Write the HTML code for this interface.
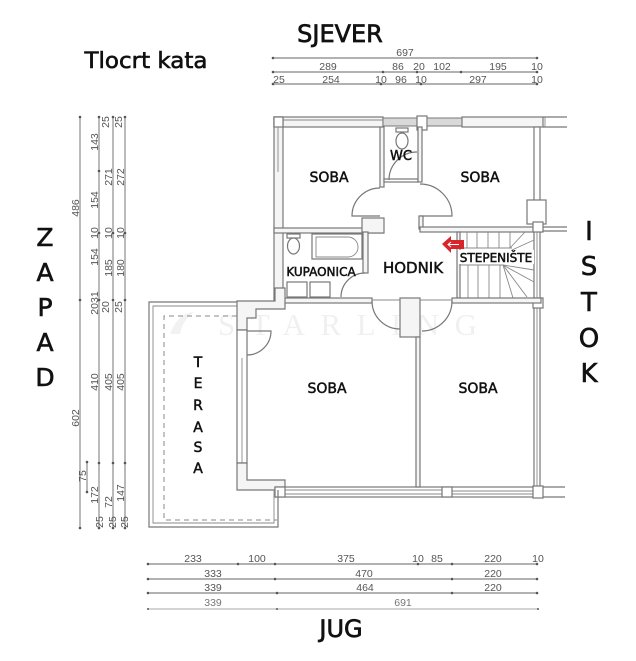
<!DOCTYPE html>
<html><head><meta charset="utf-8">
<style>
html,body{margin:0;padding:0;background:#fff;width:636px;height:661px;overflow:hidden;}
svg{display:block;}
.d{font-family:"Liberation Sans",sans-serif;font-size:10.5px;fill:#555;text-anchor:middle;}
.l{font-family:"DejaVu Sans",sans-serif;fill:#111;stroke:#111;stroke-width:0.5;text-anchor:middle;}
.w{fill:#f5f5f5;stroke:#777;stroke-width:1.2;}
.wh{fill:#fff;stroke:#777;stroke-width:1.2;}
.ln{stroke:#777;stroke-width:1.2;fill:none;}
.th{stroke:#888;stroke-width:0.9;fill:none;}
.dl{stroke:#666;stroke-width:0.9;fill:none;}
.tk{fill:#555;}
</style></head><body>
<svg width="636" height="661" viewBox="0 0 636 661" xmlns="http://www.w3.org/2000/svg">

<!-- Titles -->
<text x="340" y="42" class="l" style="font-size:24px;stroke-width:0.7">SJEVER</text>
<text x="146" y="68" class="l" style="font-size:22px;stroke-width:0.6" textLength="123" lengthAdjust="spacingAndGlyphs">Tlocrt kata</text>
<text x="341" y="637" class="l" style="font-size:24px;stroke-width:0.7">JUG</text>

<g class="l" style="font-size:25px;stroke-width:0.6">
<text x="45" y="246">Z</text><text x="45" y="281">A</text><text x="45" y="316">P</text><text x="45" y="351">A</text><text x="45" y="386">D</text>
</g>
<g class="l" style="font-size:26px;stroke-width:0.6">
<text x="589" y="240">I</text><text x="589" y="275">S</text><text x="589" y="311">T</text><text x="589" y="347">O</text><text x="589" y="382">K</text>
</g>

<!-- Top dimensions -->
<g class="dl">
<line x1="273" y1="58" x2="538" y2="58"/>
<line x1="273" y1="72" x2="538" y2="72"/>
<line x1="273" y1="84" x2="538" y2="84"/>
</g>
<g class="tk">
<circle cx="273" cy="58" r="1.3"/><circle cx="537" cy="58" r="1.3"/>
<circle cx="273" cy="72" r="1.3"/><circle cx="383" cy="72" r="1.3"/><circle cx="417" cy="72" r="1.3"/><circle cx="461" cy="72" r="1.3"/><circle cx="537" cy="72" r="1.3"/>
<circle cx="273" cy="84" r="1.3"/><circle cx="381" cy="84" r="1.3"/><circle cx="421" cy="84" r="1.3"/><circle cx="537" cy="84" r="1.3"/>
</g>
<g class="d">
<text x="405" y="56">697</text>
<text x="328" y="70">289</text><text x="398" y="70">86</text><text x="419" y="70">20</text><text x="442" y="70">102</text><text x="498" y="70">195</text><text x="537" y="70">10</text>
<text x="279" y="83">25</text><text x="331" y="83">254</text><text x="381" y="83">10</text><text x="401" y="83">96</text><text x="421" y="83">10</text><text x="478" y="83">297</text><text x="537" y="83">10</text>
</g>

<!-- Left dimensions -->
<g class="dl">
<line x1="80" y1="117" x2="80" y2="528"/>
<line x1="99" y1="117" x2="99" y2="528"/>
<line x1="113" y1="117" x2="113" y2="528"/>
<line x1="125" y1="117" x2="125" y2="528"/>
<line x1="87" y1="462" x2="87" y2="492"/>
</g>
<g class="tk">
<circle cx="80" cy="117" r="1.3"/><circle cx="80" cy="300" r="1.3"/><circle cx="80" cy="528" r="1.3"/>
<circle cx="87" cy="462" r="1.3"/><circle cx="87" cy="492" r="1.3"/>
<circle cx="99" cy="117" r="1.3"/><circle cx="99" cy="171" r="1.3"/><circle cx="99" cy="233" r="1.3"/><circle cx="99" cy="300" r="1.3"/><circle cx="99" cy="463" r="1.3"/><circle cx="99" cy="528" r="1.3"/>
<circle cx="113" cy="117" r="1.3"/><circle cx="113" cy="233" r="1.3"/><circle cx="113" cy="300" r="1.3"/><circle cx="113" cy="463" r="1.3"/><circle cx="113" cy="528" r="1.3"/>
<circle cx="125" cy="117" r="1.3"/><circle cx="125" cy="233" r="1.3"/><circle cx="125" cy="300" r="1.3"/><circle cx="125" cy="463" r="1.3"/><circle cx="125" cy="528" r="1.3"/>
</g>
<g class="d">
<text transform="rotate(-90 79 208)" x="79" y="208">486</text>
<text transform="rotate(-90 79 418)" x="79" y="418">602</text>
<text transform="rotate(-90 86 476)" x="86" y="476">75</text>
<text transform="rotate(-90 98 495)" x="98" y="495">172</text>
<text transform="rotate(-90 103 522)" x="103" y="522">25</text>

<text transform="rotate(-90 98 142)" x="98" y="142">143</text>
<text transform="rotate(-90 98 200)" x="98" y="200">154</text>
<text transform="rotate(-90 98 233)" x="98" y="233">10</text>
<text transform="rotate(-90 98 257)" x="98" y="257">154</text>
<text transform="rotate(-90 98 303)" x="98" y="303">2031</text>
<text transform="rotate(-90 98 382)" x="98" y="382">410</text>

<text transform="rotate(-90 109 122)" x="109" y="122">25</text>
<text transform="rotate(-90 112 177)" x="112" y="177">271</text>
<text transform="rotate(-90 112 233)" x="112" y="233">10</text>
<text transform="rotate(-90 112 268)" x="112" y="268">185</text>
<text transform="rotate(-90 109 307)" x="109" y="307">20</text>
<text transform="rotate(-90 112 382)" x="112" y="382">405</text>
<text transform="rotate(-90 112 502)" x="112" y="502">72</text>
<text transform="rotate(-90 116 522)" x="116" y="522">25</text>

<text transform="rotate(-90 122 122)" x="122" y="122">25</text>
<text transform="rotate(-90 124 177)" x="124" y="177">272</text>
<text transform="rotate(-90 124 233)" x="124" y="233">10</text>
<text transform="rotate(-90 124 268)" x="124" y="268">180</text>
<text transform="rotate(-90 122 307)" x="122" y="307">25</text>
<text transform="rotate(-90 124 382)" x="124" y="382">405</text>
<text transform="rotate(-90 124 493)" x="124" y="493">147</text>
<text transform="rotate(-90 128 522)" x="128" y="522">25</text>
</g>

<!-- Bottom dimensions -->
<g class="dl">
<line x1="148" y1="564" x2="538" y2="564"/>
<line x1="148" y1="579" x2="538" y2="579"/>
<line x1="148" y1="593" x2="538" y2="593"/>
<line x1="148" y1="609" x2="538" y2="609" style="stroke:#aaa"/>
</g>
<g class="tk">
<circle cx="148" cy="564" r="1.3"/><circle cx="238" cy="564" r="1.3"/><circle cx="275" cy="564" r="1.3"/><circle cx="418" cy="564" r="1.3"/><circle cx="452" cy="564" r="1.3"/><circle cx="537" cy="564" r="1.3"/>
<circle cx="148" cy="579" r="1.3"/><circle cx="275" cy="579" r="1.3"/><circle cx="452" cy="579" r="1.3"/><circle cx="537" cy="579" r="1.3"/>
<circle cx="148" cy="593" r="1.3"/><circle cx="277" cy="593" r="1.3"/><circle cx="452" cy="593" r="1.3"/><circle cx="537" cy="593" r="1.3"/>
<circle cx="148" cy="609" r="1"/><circle cx="277" cy="609" r="1"/><circle cx="538" cy="609" r="1"/>
</g>
<g class="d">
<text x="193" y="562">233</text><text x="257" y="562">100</text><text x="346" y="562">375</text><text x="418" y="562">10</text><text x="437" y="562">85</text><text x="493" y="562">220</text><text x="538" y="562">10</text>
<text x="213" y="577">333</text><text x="364" y="577">470</text><text x="493" y="577">220</text>
<text x="213" y="591">339</text><text x="365" y="591">464</text><text x="493" y="591">220</text>
<text x="213" y="606" style="fill:#777">339</text><text x="403" y="606" style="fill:#777">691</text>
</g>

<!-- Watermark -->
<g opacity="0.5">
<path d="M170,334 C176,318 186,312 194,312 C186,318 181,326 180,334 Z" fill="#e6e6e6"/>
<text x="218" y="335" textLength="259" lengthAdjust="spacing" style="font-family:'Liberation Serif',serif;font-size:31px;fill:#e2e2e2">STARLING</text>
</g>

<!-- ===== Plan: upper block ===== -->
<rect class="w" x="274" y="117" width="109" height="10"/>
<line class="th" x1="283" y1="120" x2="383" y2="120"/>
<rect x="383" y="118" width="35" height="8" fill="#d9d9d9" stroke="#777" stroke-width="1"/>
<rect class="wh" x="417" y="116" width="10" height="14"/>
<rect x="427" y="118" width="35" height="8" fill="#d9d9d9" stroke="#777" stroke-width="1"/>
<rect class="w" x="462" y="117" width="81" height="10"/>
<line class="ln" x1="543" y1="117" x2="567" y2="117"/>
<line class="ln" x1="543" y1="127" x2="567" y2="127"/>
<line class="th" x1="545" y1="117" x2="545" y2="127"/>

<rect class="w" x="274" y="117" width="9" height="183"/>
<line class="th" x1="278" y1="127" x2="278" y2="172"/>
<rect class="wh" x="274" y="117" width="9" height="10"/>

<rect class="w" x="274" y="228" width="109" height="5"/>
<rect class="w" x="380" y="127" width="4" height="60"/>
<rect class="w" x="362" y="218" width="22" height="15"/>
<path class="ln" d="M380,188 A28,28 0 0 0 352,216 L380,216"/>

<rect class="wh" x="384" y="179" width="34" height="3"/>
<rect class="w" x="418" y="127" width="4" height="55"/>
<path class="ln" d="M389,180 A28,28 0 0 1 417,152"/>
<rect class="wh" x="396" y="128" width="12" height="4"/>
<ellipse class="wh" cx="402" cy="141" rx="6" ry="8"/>

<path class="ln" d="M420,184 A32,32 0 0 1 452,216 L420,216"/>
<rect class="w" x="419" y="216" width="4" height="13"/>
<rect class="w" x="420" y="227" width="121" height="5"/>
<line class="ln" x1="541" y1="227" x2="567" y2="227"/>
<line class="ln" x1="541" y1="231" x2="567" y2="231"/>

<rect class="wh" x="534" y="127" width="6" height="370"/>
<line class="th" x1="537" y1="232" x2="537" y2="487"/>
<rect class="wh" x="527" y="200" width="19" height="24"/>
<rect class="wh" x="533" y="222" width="10" height="10"/>
<rect class="wh" x="533" y="298" width="10" height="10"/>

<rect class="w" x="363" y="232" width="5" height="41"/>
<path class="ln" d="M365,273 A24,24 0 0 0 341,297"/>
<rect class="wh" x="312" y="234" width="50" height="25"/>
<path class="th" d="M316,237 H348 A10,10 0 0 1 358,247 V248 A10,10 0 0 1 348,257 H316 Z"/>
<rect class="wh" x="287" y="234" width="13" height="4"/>
<ellipse class="wh" cx="293.5" cy="246" rx="6" ry="8"/>
<rect class="wh" x="287" y="282" width="20" height="15"/>
<rect class="wh" x="310" y="282" width="20" height="15"/>

<rect class="w" x="457" y="232" width="3" height="66"/>
<g class="th">
<line x1="467" y1="232" x2="467" y2="248"/><line x1="477" y1="232" x2="477" y2="248"/><line x1="488" y1="232" x2="488" y2="248"/><line x1="499" y1="232" x2="499" y2="248"/><line x1="510" y1="232" x2="510" y2="248"/>
<line x1="510" y1="248" x2="525" y2="232"/><line x1="512" y1="250" x2="534" y2="240"/>
<line x1="460" y1="248" x2="512" y2="248"/>
<line x1="460" y1="265" x2="503" y2="265"/>
<line x1="468" y1="265" x2="468" y2="298"/><line x1="478" y1="265" x2="478" y2="298"/><line x1="489" y1="265" x2="489" y2="298"/><line x1="500" y1="265" x2="500" y2="298"/>
<line x1="503" y1="265" x2="534" y2="270"/><line x1="503" y1="265" x2="534" y2="282"/><line x1="503" y1="265" x2="527" y2="297"/><line x1="503" y1="265" x2="513" y2="298"/>
</g>
<rect x="458" y="250" width="76" height="14" fill="#fff"/>

<rect class="w" x="283" y="298" width="89" height="5"/>
<rect class="w" x="400" y="298" width="20" height="39"/>
<rect class="w" x="452" y="298" width="89" height="5"/>
<line class="th" x1="372" y1="300" x2="400" y2="300"/>
<line class="th" x1="420" y1="300" x2="452" y2="300"/>
<path class="ln" d="M372,301 A28,28 0 0 0 400,329"/>
<path class="ln" d="M422,331 A30,30 0 0 0 452,301"/>

<!-- ===== lower block ===== -->
<polygon class="w" points="237,301 275,301 275,288 285,288 285,309 256,309 256,318 247,318 247,330 237,330"/>
<rect class="wh" x="237" y="330" width="10" height="133"/>
<line class="th" x1="242" y1="358" x2="242" y2="463"/>
<path class="ln" d="M247,331 H271 A24,24 0 0 1 247,355"/>
<polygon class="w" points="237,463 247,463 247,480 285,480 285,490 237,490"/>
<rect class="wh" x="275" y="487" width="266" height="10"/>
<line class="th" x1="285" y1="490" x2="442" y2="490"/>
<line class="th" x1="285" y1="494" x2="442" y2="494"/>
<line class="th" x1="452" y1="491" x2="533" y2="491"/>
<line class="th" x1="452" y1="494" x2="533" y2="494"/>
<rect class="wh" x="275" y="487" width="10" height="10"/>
<rect class="wh" x="442" y="487" width="10" height="10"/>
<rect class="wh" x="533" y="486" width="10" height="12"/>
<line class="ln" x1="543" y1="487" x2="565" y2="487"/>
<line class="ln" x1="543" y1="497" x2="565" y2="497"/>
<rect class="w" x="416" y="337" width="4" height="150"/>

<!-- terrace -->
<path class="ln" d="M237,302 H149 V527 H278 V490"/>
<path class="th" d="M237,306 H153 V523 H274 V490"/>
<path d="M237,316 H164 V520 H277" fill="none" stroke="#888" stroke-width="1" stroke-dasharray="5,4"/>

<!-- red arrow -->
<polygon points="442,244 451,236 451,240 464,240 464,249 451,249 451,253" fill="#d8252b"/>
<line x1="448" y1="244.5" x2="459" y2="244.5" stroke="#fff" stroke-width="1"/>
<polyline points="451,242 448,244.5 451,247" fill="none" stroke="#fff" stroke-width="1"/>

<!-- room labels -->
<text x="329" y="182" class="l" style="font-size:14px">SOBA</text>
<text x="480" y="182" class="l" style="font-size:14px">SOBA</text>
<text x="401" y="160" class="l" style="font-size:13px">WC</text>
<text x="321" y="276" class="l" style="font-size:12px">KUPAONICA</text>
<text x="413" y="273" class="l" style="font-size:15px">HODNIK</text>
<text x="496" y="262" class="l" style="font-size:12px">STEPENIŠTE</text>
<text x="327" y="393" class="l" style="font-size:14px">SOBA</text>
<text x="478" y="393" class="l" style="font-size:14px">SOBA</text>
<g class="l" style="font-size:14px">
<text x="198" y="367">T</text><text x="198" y="388">E</text><text x="198" y="410">R</text><text x="198" y="432">A</text><text x="198" y="452">S</text><text x="198" y="473">A</text>
</g>
</svg>
</body></html>
